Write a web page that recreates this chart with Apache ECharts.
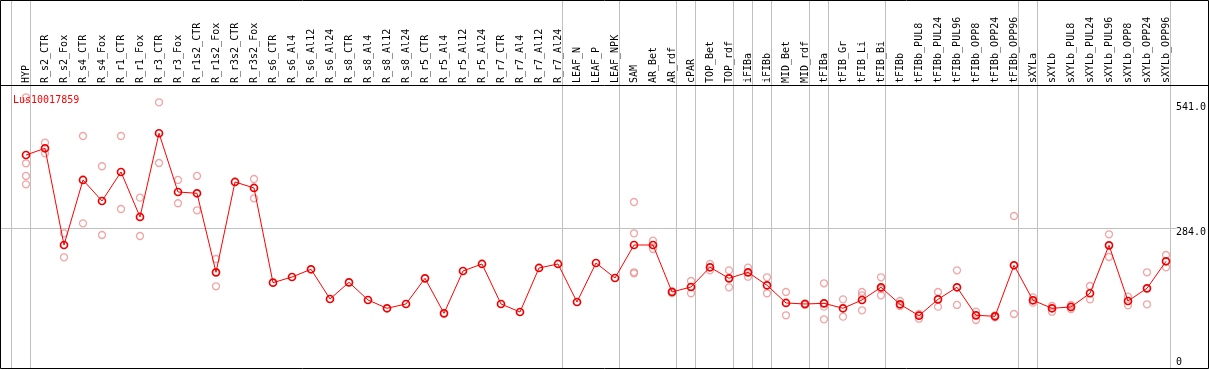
<!DOCTYPE html>
<html>
<head>
<meta charset="utf-8">
<script src="https://cdn.jsdelivr.net/npm/echarts@6/dist/echarts.min.js"></script>
<style>
html,body{margin:0;padding:0;background:#fff;}
#chart{width:1209px;height:370px;}
</style>
</head>
<body>
<div id="chart"></div>
<script>
var title = 'Lus10017859';
var categories = ['HYP','R_s2_CTR','R_s2_Fox','R_s4_CTR','R_s4_Fox','R_r1_CTR','R_r1_Fox','R_r3_CTR','R_r3_Fox','R_r1s2_CTR','R_r1s2_Fox','R_r3s2_CTR','R_r3s2_Fox',
'R_s6_CTR','R_s6_Al4','R_s6_Al12','R_s6_Al24','R_s8_CTR','R_s8_Al4','R_s8_Al12','R_s8_Al24','R_r5_CTR','R_r5_Al4','R_r5_Al12','R_r5_Al24','R_r7_CTR','R_r7_Al4','R_r7_Al12','R_r7_Al24',
'LEAF_N','LEAF_P','LEAF_NPK','SAM','AR_Bet','AR_rdf','cPAR','TOP_Bet','TOP_rdf','iFIBa','iFIBb','MID_Bet','MID_rdf','tFIBa','tFIB_Gr','tFIB_Li','tFIB_Bi',
'tFIBb','tFIBb_PUL8','tFIBb_PUL24','tFIBb_PUL96','tFIBb_OPP8','tFIBb_OPP24','tFIBb_OPP96','sXYLa','sXYLb','sXYLb_PUL8','sXYLb_PUL24','sXYLb_PUL96','sXYLb_OPP8','sXYLb_OPP24','sXYLb_OPP96'];

var meanValues = [433.8,447.6,249.2,382.6,339.5,399.0,306.7,478.4,357.9,355.3,193.2,378.5,366.2,
171.9,183.6,199.4,138.5,172.7,136.4,119.4,128.2,180.9,109.1,195.9,210.3,128.2,111.8,202.1,210.3,
132.3,212.3,181.5,249.2,249.2,152.8,163.1,203.5,180.9,193.2,166.6,130.3,128.2,129.6,119.4,136.4,162.5,
127.6,104.2,137.8,162.5,105.0,103.0,207.6,135.8,119.4,122.1,150.2,248.6,134.4,160.4,215.8];

var replicates = [
[552.2,416.8,390.8,373.7],[459.1,437.3],[273.2,224.0],[472.8,293.7],[410.7,269.7],[472.8,323.1],[346.3,267.7],[541.9,417.4],[382.6,334.8],[390.8,320.4],[220.5,164.5],[],[384.6,345.0],
[],[],[],[],[],[],[],[],[],[],[],[],[],[],[],[],
[],[],[],[337.4,273.2,193.2,191.2],[258.0,241.0],[154.3,150.8],[175.4,150.2],[210.3,197.3],[197.3,162.5],[202.7,184.2],[183.0,150.2],[152.8,105.0],[126.2,129.6],[170.7,122.7,96.8],[137.8,102.2],[152.8,146.0,115.3],[183.0,146.0,159.0],
[134.4,124.1],[98.0,107.7],[152.8,122.7],[197.3,126.2],[112.4,95.4],[105.0,100.9],[308.7,107.7],[141.9,130.9],[124.1,112.4],[126.2,117.9],[165.1,137.8],[271.2,224.6],[143.2,125.5],[193.2,127.6],[228.7,203.5]
];

var separatorsAfter = [-1,0,28,31,34,35,37,38,39,41,42,45,52,53,60];
var tickValues = [541,284,0];
var tickLabels = ['541.0','284.0','0'];
var gridValues = [284];

var repData = [];
replicates.forEach(function(arr, i){ arr.forEach(function(v){ repData.push([i, v]); }); });

var FONT = 'DejaVu Sans Mono';
var chart = echarts.init(document.getElementById('chart'), null, {renderer:'canvas'});
var nCat = categories.length;

var option = {
  animation: false,
  backgroundColor: '#fff',
  title: {
    text: title, left: 8, top: 90,
    textStyle: {color:'#ff0000', fontSize:10, fontFamily:FONT, fontWeight:'normal'}
  },
  grid: {left:16.5, right:33.5, top:85, bottom:3.5, containLabel:false},
  xAxis: [{
    type:'category', data:categories, position:'top', boundaryGap:true,
    axisLine:{show:false}, axisTick:{show:false}, splitLine:{show:false},
    axisLabel:{interval:0, rotate:90, margin:2, fontSize:10, fontFamily:FONT, color:'#000'}
  },{
    type:'value', min:-0.5, max:nCat-0.5, show:false, splitLine:{show:false}
  }],
  yAxis: {type:'value', min:0, max:577.4, show:false, splitLine:{show:false}},
  series: [{
    type:'custom', xAxisIndex:1, yAxisIndex:0, silent:true, clip:false, z:1,
    data: separatorsAfter.map(function(i){ return [i + 0.24, 0]; }),
    renderItem: function(params, api){
      var x = Math.floor(api.coord([api.value(0), 0])[0]) + 0.5;
      return {type:'line', shape:{x1:x, y1:0, x2:x, y2:369}, style:{stroke:'#c0c0c0', lineWidth:1}};
    }
  },{
    type:'scatter', xAxisIndex:0, data:repData, symbol:'circle', symbolSize:7, clip:false, silent:true, z:3,
    itemStyle:{color:'rgba(255,255,255,0)', borderColor:'#ec9090', borderWidth:1.3}
  },{
    type:'line', xAxisIndex:0, data:meanValues, symbol:'circle', symbolSize:7, showAllSymbol:true, clip:false, silent:true, z:4,
    lineStyle:{color:'#ff0000', width:1},
    itemStyle:{color:'rgba(255,255,255,0)', borderColor:'#ee0000', borderWidth:1.7}
  }]
};
chart.setOption(option);

var graphics = [];
gridValues.forEach(function(v){
  var y = Math.floor(chart.convertToPixel({yAxisIndex:0}, v)) + 0.5;
  graphics.push({type:'line', z:0, silent:true, shape:{x1:0, y1:y, x2:1176, y2:y}, style:{stroke:'#c0c0c0', lineWidth:1}});
});
tickValues.forEach(function(v, k){
  var y = chart.convertToPixel({yAxisIndex:0}, v) + 4.5;
  if (y > 362) y = 362;
  graphics.push({type:'text', z:10, silent:true, x:1176, y:y,
    style:{text:tickLabels[k], fill:'#000', font:'10px "DejaVu Sans Mono"', textAlign:'left', textVerticalAlign:'middle'}});
});
graphics.push({type:'line', z:10, silent:true, shape:{x1:0, y1:85.5, x2:1209, y2:85.5}, style:{stroke:'#000', lineWidth:1}});
graphics.push({type:'rect', z:10, silent:true, shape:{x:0.5, y:0.5, width:1208, height:368}, style:{fill:null, stroke:'#000', lineWidth:1}});
chart.setOption({graphic: graphics});
</script>
</body>
</html>
